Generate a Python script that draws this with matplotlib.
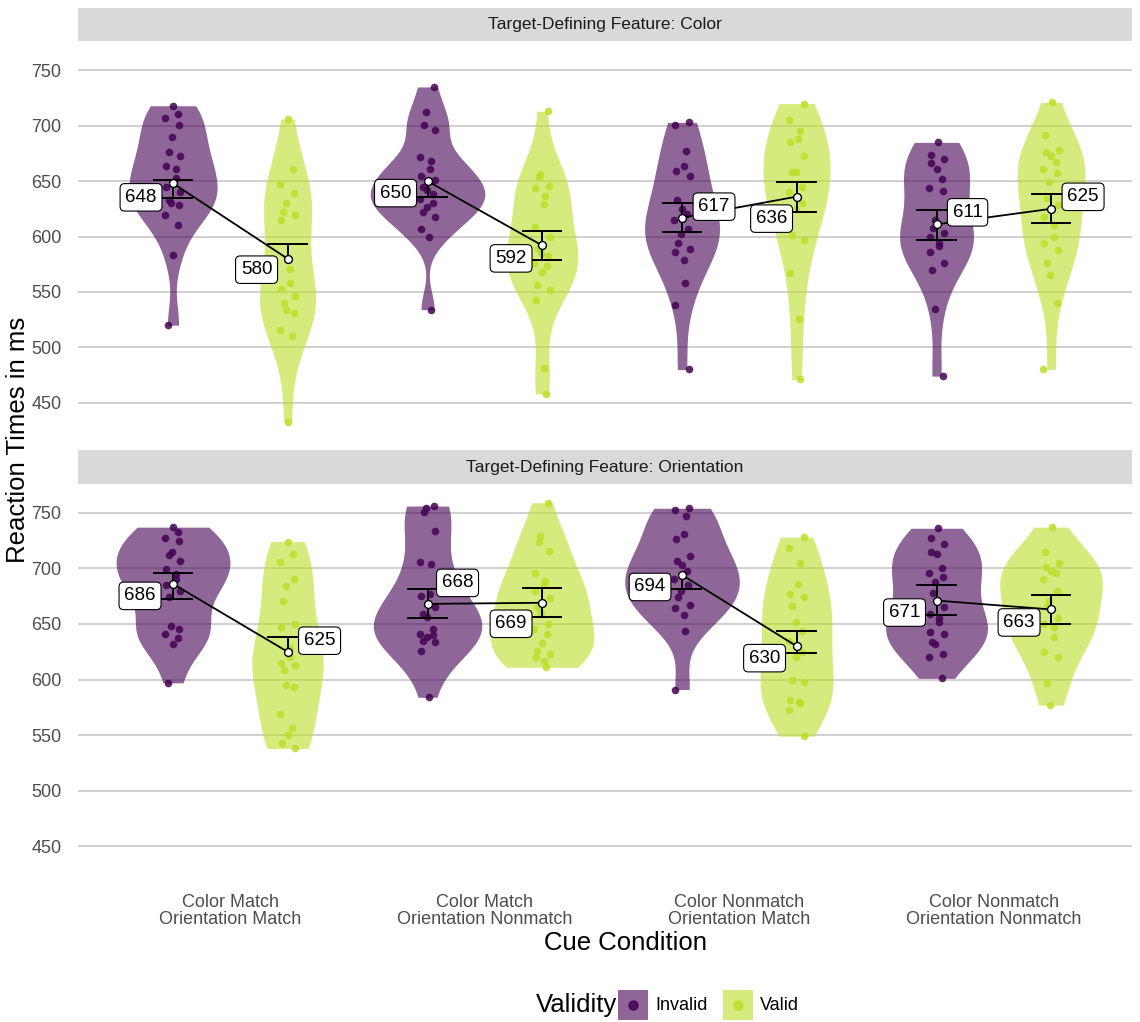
import matplotlib.pyplot as plt
import numpy as np
from matplotlib.patches import Rectangle

plt.rcParams['font.family'] = ['Liberation Sans', 'DejaVu Sans']

conditions = ["Color Match\nOrientation Match", "Color Match\nOrientation Nonmatch",
              "Color Nonmatch\nOrientation Match", "Color Nonmatch\nOrientation Nonmatch"]
features = ["Color", "Orientation"]
validity = ["Invalid", "Valid"]

# participant reaction times (ms), one list per cue condition
color_invalid = [
    [718, 711, 707, 701, 690, 676, 673, 664, 661, 653, 645, 640, 633, 630, 628, 619, 610, 583, 520],
    [735, 712, 701, 696, 672, 668, 661, 655, 651, 645, 642, 638, 634, 630, 627, 622, 618, 607, 600, 534],
    [703, 701, 677, 664, 659, 655, 633, 625, 620, 615, 607, 602, 594, 589, 586, 579, 558, 538, 480],
    [685, 674, 670, 666, 661, 652, 644, 641, 615, 608, 603, 600, 594, 591, 586, 576, 570, 535, 474],
]
color_valid = [
    [706, 661, 647, 639, 630, 622, 619, 615, 571, 558, 553, 546, 540, 534, 531, 516, 510, 433],
    [713, 656, 654, 646, 644, 637, 629, 609, 600, 590, 585, 582, 576, 573, 568, 556, 552, 543, 481, 458],
    [720, 705, 695, 688, 685, 673, 658, 658, 645, 640, 630, 625, 601, 597, 567, 526, 471],
    [721, 692, 678, 676, 673, 667, 661, 657, 649, 635, 628, 618, 610, 600, 594, 588, 576, 565, 540, 480],
]
orient_invalid = [
    [737, 733, 727, 725, 715, 712, 707, 699, 695, 690, 685, 680, 674, 648, 645, 641, 637, 632, 597],
    [756, 754, 751, 734, 706, 704, 677, 675, 665, 659, 656, 645, 641, 640, 638, 635, 634, 626, 584],
    [754, 752, 747, 731, 726, 711, 707, 703, 698, 690, 685, 680, 674, 667, 664, 658, 644, 591],
    [736, 727, 722, 715, 713, 700, 696, 692, 688, 678, 665, 659, 655, 652, 643, 641, 634, 632, 623, 620, 601],
]
orient_valid = [
    [724, 713, 706, 690, 684, 671, 650, 647, 628, 620, 615, 613, 609, 595, 593, 569, 556, 550, 543, 538],
    [759, 729, 724, 716, 696, 689, 686, 680, 673, 665, 660, 650, 645, 641, 633, 626, 623, 620, 617, 611],
    [728, 718, 705, 686, 677, 674, 666, 652, 644, 635, 625, 620, 600, 598, 582, 580, 579, 573, 549],
    [737, 715, 705, 701, 698, 696, 690, 680, 671, 665, 655, 650, 647, 638, 625, 620, 597, 577],
]

# condition means and error bar limits (nan = no whisker on that side)
mean_color_invalid = [648, 650, 617, 611]
mean_color_valid = [580, 592, 636, 625]
mean_orient_invalid = [686, 668, 694, 671]
mean_orient_valid = [625, 669, 630, 663]

lo_color_invalid = [635, 636, 604, 597]
hi_color_invalid = [651, np.nan, 630, 624]
lo_color_valid = [np.nan, 579, 622, 612]
hi_color_valid = [593, 605, 649, 638]
lo_orient_invalid = [672, 655, 681, 658]
hi_orient_invalid = [695.5, 681, np.nan, 685]
lo_orient_valid = [np.nan, 656, 623.6, 650]
hi_orient_valid = [638, 682, 643.6, 676]

# label offsets in pixels (dx, dy) relative to the mean marker
label_offsets = {
    ("Color", "Invalid"): [(-32, -14), (-32, -12), (32, 11), (31, 12)],
    ("Color", "Valid"): [(-31, -11), (-31, -13), (-25, -22), (32, 12)],
    ("Orientation", "Invalid"): [(-33, -12), (30, 21), (-32, -12), (-32, -12)],
    ("Orientation", "Valid"): [(32, 11), (-31, -21), (-32, -12), (-32, -13)],
}

colors = {"Invalid": "#440154", "Valid": "#BBDF27"}
dodge = {"Invalid": -0.225, "Valid": 0.225}

panel_data = {
    "Color": {"Invalid": (color_invalid, mean_color_invalid, lo_color_invalid, hi_color_invalid),
              "Valid": (color_valid, mean_color_valid, lo_color_valid, hi_color_valid)},
    "Orientation": {"Invalid": (orient_invalid, mean_orient_invalid, lo_orient_invalid, hi_orient_invalid),
                    "Valid": (orient_valid, mean_orient_valid, lo_orient_valid, hi_orient_valid)},
}


def kde(values):
    v = np.asarray(values, float)
    n = len(v)
    q75, q25 = np.percentile(v, [75, 25])
    bw = 0.9 * min(v.std(ddof=1), (q75 - q25) / 1.34) * n ** -0.2
    grid = np.linspace(v.min(), v.max(), 400)
    dens = np.exp(-0.5 * ((grid[:, None] - v[None, :]) / bw) ** 2).sum(1) / (n * bw * np.sqrt(2 * np.pi))
    return grid, dens


W, H = 1140, 1022
fig = plt.figure(figsize=(W / 100, H / 100), dpi=100)
panel_px = [(41.5, 439.3), (483.8, 883.0)]
left_px, right_px = 78, 1132
xlim = (0.4016, 4.543)
ylim = (417, 776)
small = 13
title = 18.5

for feat, (top, bot) in zip(features, panel_px):
    ax = fig.add_axes([left_px / W, 1 - bot / H, (right_px - left_px) / W, (bot - top) / H])
    ax.set_xlim(*xlim)
    ax.set_ylim(*ylim)
    for s in ax.spines.values():
        s.set_visible(False)
    ax.set_yticks([450, 500, 550, 600, 650, 700, 750])
    ax.yaxis.grid(True, color='#C4C4C4', lw=1.1)
    ax.set_axisbelow(True)
    ax.tick_params(axis='y', length=0, labelsize=small, labelcolor='#4D4D4D', pad=12)
    ax.set_xticks(np.arange(1, 5))
    if feat == "Orientation":
        ax.set_xticklabels(conditions, fontsize=small, color='#4D4D4D', linespacing=1.0)
        ax.tick_params(axis='x', length=0, pad=8)
    else:
        ax.set_xticklabels([])
        ax.tick_params(axis='x', length=0)

    # facet strip
    strip_h = 33.5 / (bot - top)
    ax.add_patch(Rectangle((0, 1.0), 1, strip_h, transform=ax.transAxes, facecolor='#D9D9D9',
                           edgecolor='none', clip_on=False))
    ax.text(0.5, 1 + strip_h / 2, f"Target-Defining Feature: {feat}", transform=ax.transAxes,
            ha='center', va='center', fontsize=small - 0.5, color='#1A1A1A')

    # violins scaled by the panel-wide density maximum
    dens_all = {}
    for val in validity:
        for ci, pts in enumerate(panel_data[feat][val][0]):
            dens_all[(val, ci)] = kde(pts)
    dmax = max(d.max() for _, d in dens_all.values())

    for val in validity:
        pts_list, means, los, his = panel_data[feat][val]
        for ci, pts in enumerate(pts_list):
            xc = ci + 1 + dodge[val]
            grid, dens = dens_all[(val, ci)]
            half = dens / dmax * 0.225
            ax.fill_betweenx(grid, xc - half, xc + half, color=colors[val], alpha=0.6, lw=0, zorder=2)
            n = len(pts)
            jit = 0.03 * np.sin(np.arange(n) * 2.39996 + ci)
            ax.scatter(xc + jit, pts, s=30, color=colors[val], alpha=0.85, lw=0, zorder=3)

    # error bars, connecting lines, means and labels
    for ci in range(4):
        mx = []
        my = []
        for val in validity:
            _, means, los, his = panel_data[feat][val]
            xc = ci + 1 + dodge[val]
            m, lo, hi = means[ci], los[ci], his[ci]
            y0 = m if np.isnan(lo) else lo
            y1 = m if np.isnan(hi) else hi
            ax.plot([xc, xc], [y0, y1], color='black', lw=1.4, zorder=4)
            for cap in (lo, hi):
                if not np.isnan(cap):
                    ax.plot([xc - 0.075, xc + 0.075], [cap, cap], color='black', lw=1.4, zorder=4)
            mx.append(xc)
            my.append(m)
        ax.plot(mx, my, color='black', lw=1.3, zorder=5)
        for val, x, y in zip(validity, mx, my):
            ax.scatter([x], [y], s=32, facecolor='white', edgecolor='black', lw=1.0, zorder=6)
            dx, dy = label_offsets[(feat, val)][ci]
            ax.annotate(f"{y:g}", (x, y), xytext=(dx, dy), textcoords='offset pixels',
                        ha='center', va='center', fontsize=13.5, zorder=7,
                        bbox=dict(boxstyle='round,pad=0.28,rounding_size=0.25', fc='white',
                                  ec='black', lw=0.8))

fig.text(18 / W, 1 - 440 / H, "Reaction Times in ms", rotation=90, ha='center', va='center', fontsize=title)
fig.text(626 / W, 1 - 943 / H, "Cue Condition", ha='center', va='center', fontsize=title)

# legend along the bottom: title, then a filled key with a dot per level
leg_y = 1005
fig.text(577 / W, 1 - leg_y / H, "Validity", ha='center', va='center', fontsize=title)
key_x = {"Invalid": 633, "Valid": 738}
for val in validity:
    kx = key_x[val]
    fig.patches.append(Rectangle(((kx - 15) / W, 1 - (leg_y + 15) / H), 30 / W, 30 / H,
                                 transform=fig.transFigure, facecolor=colors[val], alpha=0.6,
                                 edgecolor='none'))
    fig.lines.append(plt.Line2D([kx / W], [1 - leg_y / H], transform=fig.transFigure, marker='o',
                                ls='', color=colors[val], alpha=0.85, markersize=6.5))
    fig.text((kx + 22) / W, 1 - leg_y / H, val, ha='left', va='center', fontsize=small)

fig.savefig("out.png", dpi=100)
